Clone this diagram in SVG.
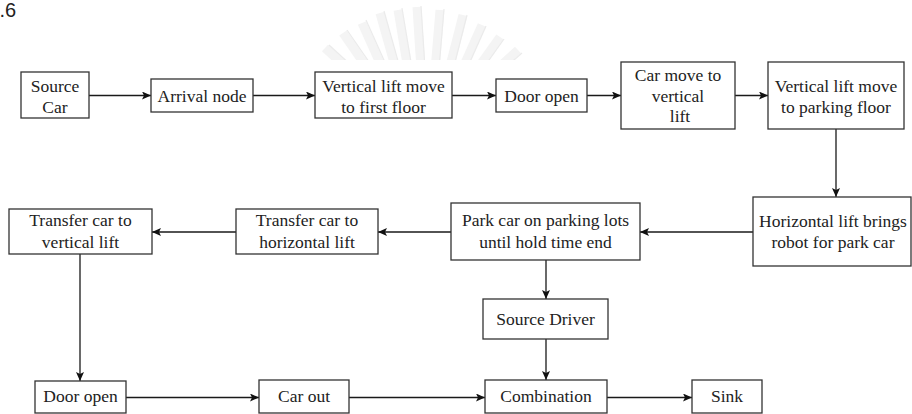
<svg xmlns="http://www.w3.org/2000/svg" width="912" height="414" viewBox="0 0 912 414">
  <style>
    .box { fill: #ffffff; stroke: #333333; stroke-width: 1.3; }
    .edge { fill: none; stroke: #1a1a1a; stroke-width: 1.3; marker-end: url(#arrow); }
    .ray { stroke: #f4f4f4; stroke-width: 9; stroke-linecap: butt; }
    .ray-edge { stroke: #ebebeb; stroke-width: 1.2; }
  </style>
  <defs>
    <marker id="arrow" markerUnits="userSpaceOnUse" markerWidth="10" markerHeight="8" refX="9" refY="4" orient="auto">
      <path d="M0,0 L9,4 L0,8 L2,4 Z" fill="#111111"/>
    </marker>
    <clipPath id="emblemClip">
      <rect x="300" y="0" width="260" height="60"/>
    </clipPath>
  </defs>

  <rect x="0" y="0" width="912" height="414" fill="#ffffff"/>

  <!-- faint emblem behind the page heading -->
  <g id="emblem" clip-path="url(#emblemClip)">
    <line class="ray" x1="325" y1="48" x2="360" y2="80"/>
    <line class="ray" x1="343" y1="33" x2="372" y2="75"/>
    <line class="ray" x1="362" y1="23" x2="384" y2="72"/>
    <line class="ray" x1="380" y1="13" x2="396" y2="70"/>
    <line class="ray" x1="398" y1="10" x2="408" y2="70"/>
    <line class="ray" x1="417" y1="7" x2="421" y2="70"/>
    <line class="ray" x1="440" y1="10" x2="435" y2="70"/>
    <line class="ray" x1="463" y1="15" x2="449" y2="70"/>
    <line class="ray" x1="482" y1="25" x2="461" y2="72"/>
    <line class="ray" x1="500" y1="37" x2="473" y2="75"/>
    <line class="ray" x1="518" y1="50" x2="485" y2="80"/>
    <line class="ray-edge" x1="329" y1="45" x2="364" y2="77"/>
    <line class="ray-edge" x1="347" y1="30" x2="376" y2="72"/>
    <line class="ray-edge" x1="366" y1="20" x2="388" y2="69"/>
    <line class="ray-edge" x1="384" y1="11" x2="400" y2="68"/>
    <line class="ray-edge" x1="402" y1="8" x2="412" y2="68"/>
    <line class="ray-edge" x1="421" y1="6" x2="425" y2="68"/>
    <line class="ray-edge" x1="444" y1="9" x2="439" y2="68"/>
    <line class="ray-edge" x1="467" y1="15" x2="453" y2="70"/>
    <line class="ray-edge" x1="486" y1="26" x2="465" y2="73"/>
    <line class="ray-edge" x1="504" y1="39" x2="477" y2="77"/>
    <line class="ray-edge" x1="522" y1="53" x2="489" y2="82"/>
  </g>

  <text x="-0.5" y="17" font-family="Liberation Sans" font-size="20" fill="#222222">.6</text>

  <g id="connectors">
    <line class="edge" x1="89" y1="95.5" x2="151" y2="95.5"/>
    <line class="edge" x1="253" y1="95.5" x2="315" y2="95.5"/>
    <line class="edge" x1="452" y1="95.5" x2="496" y2="95.5"/>
    <line class="edge" x1="587" y1="95.5" x2="621" y2="95.5"/>
    <line class="edge" x1="735" y1="95.5" x2="768" y2="95.5"/>
    <line class="edge" x1="836" y1="129" x2="836" y2="197"/>
    <line class="edge" x1="753" y1="232" x2="640" y2="232"/>
    <line class="edge" x1="451" y1="232" x2="378" y2="232"/>
    <line class="edge" x1="236" y1="232" x2="152" y2="232"/>
    <line class="edge" x1="80" y1="254" x2="80" y2="381" stroke="#444444"/>
    <line class="edge" x1="126" y1="397.5" x2="259" y2="397.5"/>
    <line class="edge" x1="349" y1="397.5" x2="485" y2="397.5"/>
    <line class="edge" x1="607" y1="397.5" x2="692" y2="397.5"/>
    <line class="edge" x1="546" y1="260" x2="546" y2="299"/>
    <line class="edge" x1="546" y1="339" x2="546" y2="380"/>
  </g>

  <g id="nodes" font-family="Liberation Serif" font-size="17.5" fill="#222222" text-anchor="middle">
    <g id="source-car">
      <rect class="box" x="21" y="72" width="68" height="46"/>
      <text x="55" y="91.5" font-family="Liberation Serif">Source</text>
      <text x="55" y="112.5" font-family="Liberation Serif">Car</text>
    </g>
    <g id="arrival-node">
      <rect class="box" x="151" y="79" width="102" height="33"/>
      <text x="202" y="101.5" font-family="Liberation Serif">Arrival node</text>
    </g>
    <g id="lift-first-floor">
      <rect class="box" x="315" y="72" width="137" height="46"/>
      <text x="383.5" y="91.5" font-family="Liberation Serif">Vertical lift move</text>
      <text x="383.5" y="112.5" font-family="Liberation Serif">to first floor</text>
    </g>
    <g id="door-open-in">
      <rect class="box" x="496" y="79" width="91" height="33"/>
      <text x="541.5" y="101.5" font-family="Liberation Serif">Door open</text>
    </g>
    <g id="car-to-lift">
      <rect class="box" x="621" y="62" width="114" height="67"/>
      <text x="678" y="81" font-family="Liberation Serif">Car move to</text>
      <text x="678" y="101.5" font-family="Liberation Serif">vertical</text>
      <text x="680" y="122" font-family="Liberation Serif">lift</text>
    </g>
    <g id="lift-parking-floor">
      <rect class="box" x="768" y="62" width="136" height="67"/>
      <text x="836" y="91.5" font-family="Liberation Serif">Vertical lift move</text>
      <text x="836" y="112.5" font-family="Liberation Serif">to parking floor</text>
    </g>
    <g id="horizontal-lift">
      <rect class="box" x="753" y="197" width="158" height="69"/>
      <text x="833" y="226.5" font-family="Liberation Serif">Horizontal lift brings</text>
      <text x="833" y="248" font-family="Liberation Serif">robot for park car</text>
    </g>
    <g id="park-car">
      <rect class="box" x="451" y="203" width="189" height="57"/>
      <text x="545.5" y="226" font-family="Liberation Serif">Park car on parking lots</text>
      <text x="545.5" y="248" font-family="Liberation Serif">until hold time end</text>
    </g>
    <g id="transfer-horizontal">
      <rect class="box" x="236" y="209" width="142" height="45"/>
      <text x="307" y="226" font-family="Liberation Serif">Transfer car to</text>
      <text x="307" y="248" font-family="Liberation Serif">horizontal lift</text>
    </g>
    <g id="transfer-vertical">
      <rect class="box" x="9" y="209" width="143" height="45"/>
      <text x="80.5" y="226" font-family="Liberation Serif">Transfer car to</text>
      <text x="80.5" y="248" font-family="Liberation Serif">vertical lift</text>
    </g>
    <g id="source-driver">
      <rect class="box" x="483" y="299" width="125" height="40"/>
      <text x="545.5" y="325" font-family="Liberation Serif">Source Driver</text>
    </g>
    <g id="door-open-out">
      <rect class="box" x="35" y="381" width="91" height="32"/>
      <text x="80.5" y="402" font-family="Liberation Serif">Door open</text>
    </g>
    <g id="car-out">
      <rect class="box" x="259" y="380" width="90" height="33"/>
      <text x="304" y="402" font-family="Liberation Serif">Car out</text>
    </g>
    <g id="combination">
      <rect class="box" x="485" y="380" width="122" height="33"/>
      <text x="546" y="402" font-family="Liberation Serif">Combination</text>
    </g>
    <g id="sink">
      <rect class="box" x="692" y="380" width="70" height="33"/>
      <text x="727" y="402" font-family="Liberation Serif">Sink</text>
    </g>
  </g>
</svg>
